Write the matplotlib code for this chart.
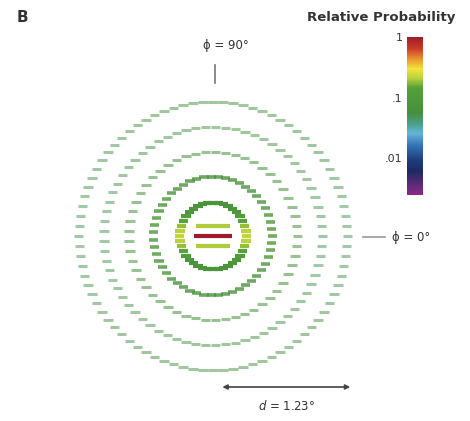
#!/usr/bin/env python3

import numpy as np
import matplotlib
matplotlib.use("Agg")
import matplotlib.pyplot as plt
from matplotlib.cm import ScalarMappable
from matplotlib.colors import LinearSegmentedColormap, LogNorm

#################################################
### Data (angles in degrees)
#################################################

# diffraction rings: radius and relative probability at phi = 0 (side) / phi = 90 (top)
ring_radius = [0.32, 0.57, 0.81, 1.05, 1.29]
ring_prob_side = [0.22, 0.09, 0.055, 0.05, 0.05]
ring_prob_top = [0.075, 0.07, 0.06, 0.055, 0.055]
ring_alpha = [1.0, 0.8, 0.55, 0.5, 0.5]
ring_dash_step = [0.05, 0.07, 0.096, 0.096, 0.096]
ring_width = [3.0, 2.6, 2.2, 2.2, 2.2]

# central peak, drawn as three rows
peak_row_y = [-0.096, 0.0, 0.096]
peak_row_halfwidth = [0.165, 0.18, 0.165]
peak_row_prob = [0.2, 1.0, 0.2]

cbar_ticks = [1, 0.1, 0.01]
cbar_ticklabels = ['1', '.1', '.01']
d_value = 1.23

#################################################
### Colours
#################################################

cmap = LinearSegmentedColormap.from_list('relprob', [
    (0.00, '#8c2a82'), (0.07, '#5a2a78'), (0.15, '#1c2a64'), (0.22, '#1e3c7a'),
    (0.32, '#3a78b8'), (0.39, '#64b4d8'), (0.45, '#4aa08a'), (0.52, '#45903c'),
    (0.68, '#55a03a'), (0.74, '#b9d23c'), (0.80, '#f2e43c'), (0.87, '#e8892c'),
    (0.93, '#c83a28'), (1.00, '#a01c2c')])
norm = LogNorm(vmin=0.0025, vmax=1.0)

#################################################
### Figure
#################################################

px = 104.0  # pixels per degree
fig = plt.figure(figsize=(4.7, 4.21), dpi=100)
ax = fig.add_axes([0, 0, 1, 1])
ax.set_xlim(-213 / px, 257 / px)
ax.set_ylim(-185 / px, 236 / px)
ax.axis('off')

# rings as short horizontal dashes
for r, p_side, p_top, a, step, lw in zip(ring_radius, ring_prob_side, ring_prob_top,
                                         ring_alpha, ring_dash_step, ring_width):
    n = int(round(2 * np.pi * r / step))
    phi = np.linspace(0, 2 * np.pi, n, endpoint=False)
    x = r * np.cos(phi)
    y = r * np.sin(phi)
    w = np.cos(phi) ** 6  # side value only close to phi = 0
    prob = p_side * w + p_top * (1 - w)
    ax.scatter(x, y, c=prob, cmap=cmap, norm=norm, marker='_', s=45,
               linewidths=lw, alpha=a)

# central peak
for y, hw, p in zip(peak_row_y, peak_row_halfwidth, peak_row_prob):
    ax.hlines(y, -hw, hw, colors=[cmap(norm(p))], linewidth=3.0)

# phi markers
ax.plot([0.02, 0.02], [1.471, 1.644], color='#777777', lw=1.2)
ax.text(0.12, 1.83, 'ϕ = 90°', ha='center', va='center', fontsize=8.5, color='#333333')
ax.plot([1.442, 1.654], [-0.01, -0.01], color='#999999', lw=1.2)
ax.text(1.72, -0.01, 'ϕ = 0°', ha='left', va='center', fontsize=8.5, color='#333333')

# scale arrow
ax.annotate('', xy=(0.09, -1.452), xytext=(0.09 + d_value, -1.452),
            arrowprops=dict(arrowstyle='<|-|>', color='#444444', lw=1.2,
                            mutation_scale=7, shrinkA=0, shrinkB=0))
ax.text(0.09 + d_value / 2, -1.63, f'$d$ = {d_value}°', ha='center', va='center',
        fontsize=8.5, color='#333333')

fig.text(22 / 470, 1 - 18 / 421, 'B', ha='center', va='center', fontsize=11,
         fontweight='bold', color='#333333')
fig.text(381 / 470, 1 - 18 / 421, 'Relative Probability', ha='center', va='center',
         fontsize=9.5, fontweight='bold', color='#333333')

# colour bar
cax = fig.add_axes([407 / 470, 1 - 195 / 421, 16 / 470, 158 / 421])
cb = fig.colorbar(ScalarMappable(norm=norm, cmap=cmap), cax=cax)
cb.outline.set_visible(False)
cax.yaxis.set_ticks_position('left')
cb.set_ticks(cbar_ticks)
cb.set_ticklabels(cbar_ticklabels)
cax.minorticks_off()
cax.tick_params(length=0, pad=3, labelsize=8, labelcolor='#333333')

fig.savefig('out.png', dpi=100)
